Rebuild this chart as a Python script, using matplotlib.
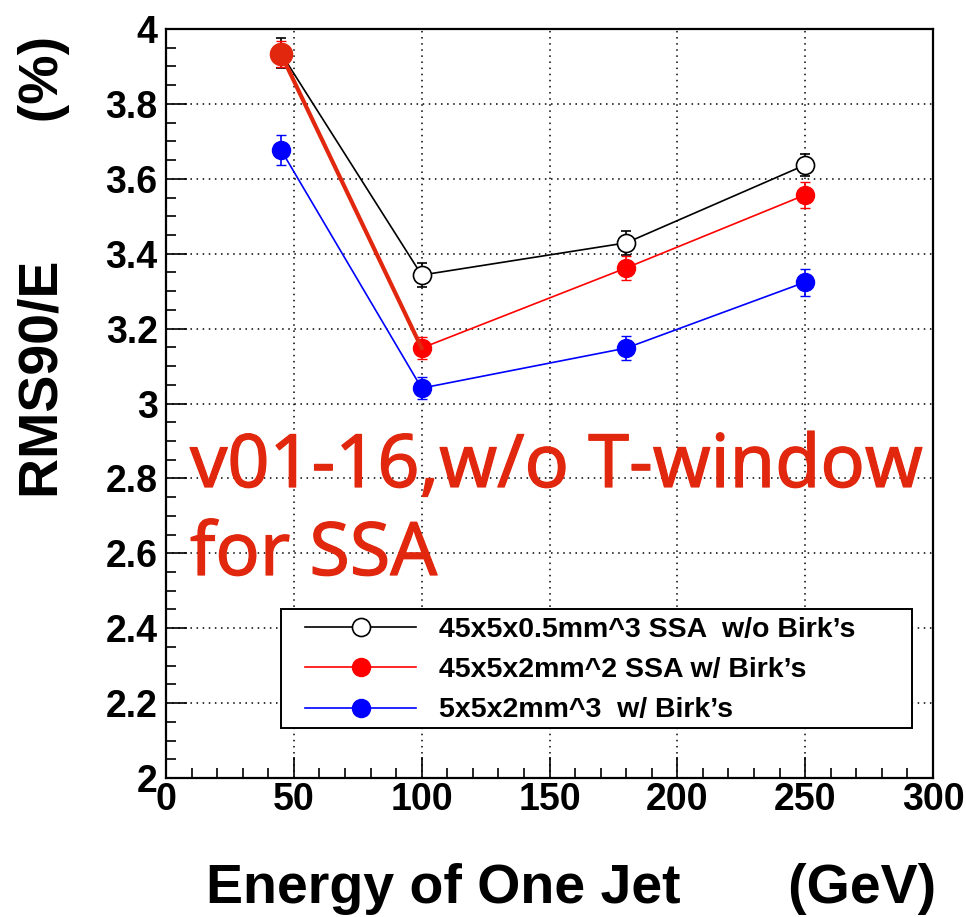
import matplotlib
matplotlib.use("Agg")
import matplotlib.pyplot as plt
import matplotlib.patheffects as pe
from matplotlib.ticker import MultipleLocator
from matplotlib.lines import Line2D
from matplotlib.patches import Rectangle

# Jet energies (GeV)
energy = [45, 100, 180, 250]

# RMS90/E (%) and errors for each cell configuration
rms_ssa_noBirk = [3.935, 3.343, 3.429, 3.637]
err_ssa_noBirk = [0.040, 0.032, 0.032, 0.030]

rms_ssa_birk = [3.933, 3.148, 3.362, 3.557]
err_ssa_birk = [0.035, 0.030, 0.033, 0.035]

rms_5x5_birk = [3.677, 3.041, 3.148, 3.324]
err_5x5_birk = [0.039, 0.030, 0.032, 0.036]

labels = [
    "45x5x0.5mm^3 SSA  w/o Birk\u2019s",
    "45x5x2mm^2 SSA w/ Birk\u2019s",
    "5x5x2mm^3  w/ Birk\u2019s",
]

note_lines = ["v01-16,w/o T-window", "for SSA"]
note_color = "#e1280e"

plt.rcParams["font.family"] = ["Liberation Sans", "DejaVu Sans"]
plt.rcParams["font.weight"] = "bold"

fig = plt.figure(figsize=(9.66, 9.17), dpi=100)
W, H = 966, 917
ax = fig.add_axes([166 / W, (H - 778) / H, 767 / W, 749 / H])

ax.set_xlim(0, 300)
ax.set_ylim(2, 4)
ax.xaxis.set_major_locator(MultipleLocator(50))
ax.xaxis.set_minor_locator(MultipleLocator(10))
ax.yaxis.set_major_locator(MultipleLocator(0.2))
ax.yaxis.set_minor_locator(MultipleLocator(0.05))
ax.yaxis.set_major_formatter(plt.FuncFormatter(lambda v, p: f"{v:g}"))

ax.grid(True, which="major", color="black", linestyle=(0, (1, 3)), linewidth=1.1)
ax.tick_params(which="both", direction="in", top=False, right=False,
               labelsize=27, width=1.2)
ax.tick_params(which="major", length=15)
ax.tick_params(which="minor", length=7.5)
ax.tick_params(axis="x", which="major", pad=3)
ax.tick_params(axis="y", which="major", pad=6)
for lab in ax.get_xticklabels() + ax.get_yticklabels():
    lab.set_fontweight("bold")
for sp in ax.spines.values():
    sp.set_linewidth(1.6)

# three series with error bars
ax.errorbar(energy, rms_ssa_noBirk, yerr=err_ssa_noBirk, color="black",
            marker="o", mfc="white", mec="black", ms=13, mew=1.2, lw=1.2,
            capsize=3.5, elinewidth=1.2, zorder=3)
ax.errorbar(energy, rms_ssa_birk, yerr=err_ssa_birk, color="red",
            marker="o", mfc="red", mec="red", ms=13, lw=1.2,
            capsize=3.5, elinewidth=1.2, zorder=4)
ax.errorbar(energy, rms_5x5_birk, yerr=err_5x5_birk, color="blue",
            marker="o", mfc="blue", mec="blue", ms=13, lw=1.2,
            capsize=3.5, elinewidth=1.2, zorder=4)

# highlighted first segment of the SSA w/ Birk's curve
ax.plot(energy[:2], rms_ssa_birk[:2], color=note_color, lw=3, zorder=5)
ax.plot(energy[:1], rms_ssa_birk[:1], "o", color=note_color, ms=16, zorder=6)

# legend: frame drawn as a separate box, entries placed inside it
box = Rectangle((0.150, 0.0668), 0.8227, 0.1589, transform=ax.transAxes,
                facecolor="white", edgecolor="black", lw=1.4, zorder=8)
ax.add_patch(box)

handles = [
    Line2D([], [], color="black", lw=1.2, marker="o", mfc="white", mec="black", ms=13, mew=1.2),
    Line2D([], [], color="red", lw=1.2, marker="o", mfc="red", mec="red", ms=13),
    Line2D([], [], color="blue", lw=1.2, marker="o", mfc="blue", mec="blue", ms=13),
]
leg = ax.legend(handles, labels, loc="upper left",
                bbox_to_anchor=((305 - 166) / 767, (778 - 617) / 749),
                prop={"family": "Liberation Sans", "weight": "bold", "size": 20.5},
                handlelength=3.9, handletextpad=0.8, borderpad=0,
                labelspacing=0.5, frameon=False, borderaxespad=0)
leg.set_zorder(9)

# annotation, slightly thickened strokes
note_font = dict(family=["Noto Sans", "DejaVu Sans"], fontsize=53,
                 color=note_color, transform=ax.transAxes,
                 ha="left", va="baseline", zorder=7,
                 path_effects=[pe.withStroke(linewidth=0.9, foreground=note_color)])
ax.text((190 - 166) / 767, (778 - 487) / 749, note_lines[0], fontweight="normal", **note_font)
ax.text((190 - 166) / 767, (778 - 575) / 749, note_lines[1], fontweight="normal", **note_font)

# axis titles
fig.text(44 / W, 1 - 36 / H, "RMS90/E         (%)", rotation=90,
         ha="center", va="top", fontsize=40, fontweight="bold")
fig.text(936 / W, (H - 903) / H, "Energy of One Jet       (GeV)",
         ha="right", va="baseline", fontsize=40, fontweight="bold")

fig.savefig("out.png", dpi=100, facecolor="white")
